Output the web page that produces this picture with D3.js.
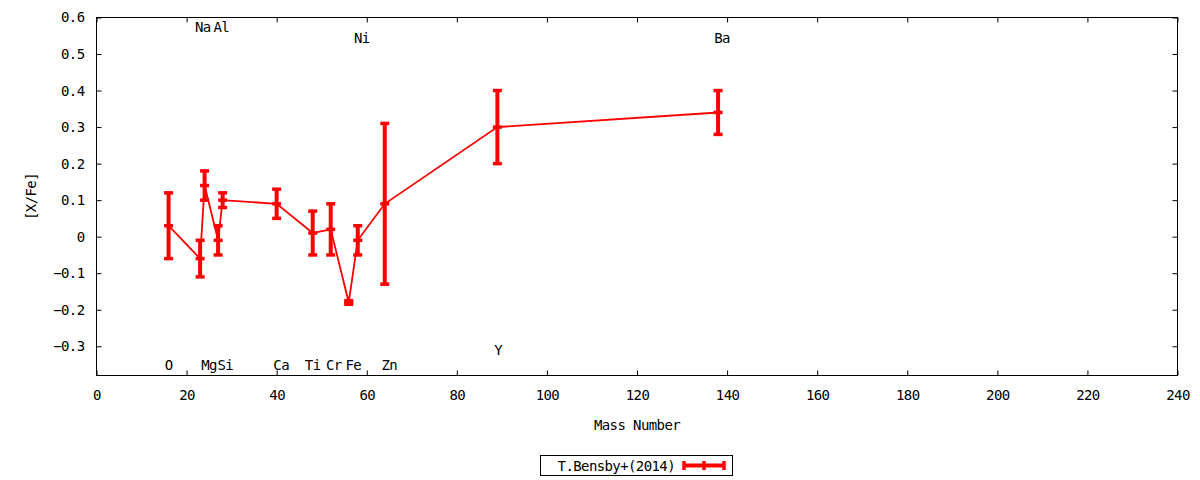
<!DOCTYPE html>
<html>
<head>
<meta charset="utf-8">
<script src="https://cdn.jsdelivr.net/npm/d3@7/dist/d3.min.js"></script>
<style>
  html, body { margin: 0; padding: 0; background: #fff; }
  svg { display: block; }
  text { font-family: "DejaVu Sans Mono", monospace; font-size: 14px; letter-spacing: -0.6px; fill: #000; }
</style>
</head>
<body>
<svg id="chart" width="1200" height="480"></svg>
<script>
// ---- data ----
const elements  = ["O", "Na", "Mg", "Al", "Si", "Ca", "Ti", "Cr", "Fe", "Ni", "Zn", "Y", "Ba"];
const massNum   = [16, 23, 24, 27, 28, 40, 48, 52, 56, 58, 64, 89, 138];
const xfe       = [0.03, -0.06, 0.14, -0.01, 0.10, 0.09, 0.01, 0.02, -0.18, -0.01, 0.09, 0.30, 0.34];
const xfeErr    = [0.09, 0.05, 0.04, 0.04, 0.02, 0.04, 0.06, 0.07, 0.005, 0.04, 0.22, 0.10, 0.06];

// element annotation labels (position in data units)
const labelText = ["Na", "Al", "Ni", "Ba", "O", "Mg", "Si", "Ca", "Ti", "Cr", "Fe", "Zn", "Y"];
const labelX    = [23.6, 27.7, 58.9, 138.9, 16.0, 25.0, 28.6, 41.0, 48.0, 52.7, 57.0, 65.0, 89.2];
const labelY    = [0.574, 0.574, 0.544, 0.544, -0.35, -0.35, -0.35, -0.35, -0.35, -0.35, -0.35, -0.35, -0.31];

const xTicks = [0, 20, 40, 60, 80, 100, 120, 140, 160, 180, 200, 220, 240];
const yTicks = [-0.3, -0.2, -0.1, 0, 0.1, 0.2, 0.3, 0.4, 0.5, 0.6];
const seriesName = "T.Bensby+(2014)";
const xTitle = "Mass Number";
const yTitle = "[X/Fe]";

// ---- layout ----
const L = 96.5, R = 1177.5, T = 17.5, B = 375.5;
const color = "#ff0000";
const svg = d3.select("#chart");

const x = d3.scaleLinear().domain([0, 240]).range([L, R]);
const y = d3.scaleLinear().domain([-0.38, 0.6]).range([B, T]);

const fmtY = v => (Math.abs(v) < 1e-9 ? "0" : d3.format(".1f")(v));

// bottom axis
svg.append("g").attr("transform", `translate(0,${B})`)
  .call(d3.axisBottom(x).tickValues(xTicks).tickSizeInner(-5).tickSizeOuter(0).tickPadding(15).tickFormat(d3.format("d")))
  .call(g => g.select(".domain").remove());
// top axis (mirror ticks)
svg.append("g").attr("transform", `translate(0,${T})`)
  .call(d3.axisTop(x).tickValues(xTicks).tickSizeInner(-5).tickSizeOuter(0).tickFormat(""))
  .call(g => g.select(".domain").remove());
// left axis
svg.append("g").attr("transform", `translate(${L},0)`)
  .call(d3.axisLeft(y).tickValues(yTicks).tickSizeInner(-5).tickSizeOuter(0).tickPadding(12).tickFormat(fmtY))
  .call(g => g.select(".domain").remove());
// right axis (mirror ticks)
svg.append("g").attr("transform", `translate(${R},0)`)
  .call(d3.axisRight(y).tickValues(yTicks).tickSizeInner(-5).tickSizeOuter(0).tickFormat(""))
  .call(g => g.select(".domain").remove());

svg.selectAll(".tick text")
  .style("font-family", "DejaVu Sans Mono").style("font-size", "14px").style("letter-spacing", "-0.6px");
svg.selectAll(".tick line").attr("stroke", "#000");

// frame
svg.append("rect").attr("x", L).attr("y", T).attr("width", R - L).attr("height", B - T)
  .attr("fill", "none").attr("stroke", "#000").attr("stroke-width", 1);

// titles
svg.append("text").attr("x", (L + R) / 2).attr("y", 430).attr("text-anchor", "middle").text(xTitle);
svg.append("text").attr("transform", `translate(36,${(T + B) / 2}) rotate(-90)`)
  .attr("text-anchor", "middle").text(yTitle);

// element labels
svg.append("g").selectAll("text").data(labelText).join("text")
  .attr("x", (d, i) => x(labelX[i]))
  .attr("y", (d, i) => y(labelY[i]))
  .attr("dy", "0.36em")
  .attr("text-anchor", "middle")
  .text(d => d);

// data series
const pts = massNum.map((m, i) => ({ m, v: xfe[i], e: xfeErr[i] }));
const capW = 4.5;

svg.append("path").datum(pts)
  .attr("fill", "none").attr("stroke", color).attr("stroke-width", 1.8)
  .attr("d", d3.line().x(d => x(d.m)).y(d => y(d.v)));

const eb = svg.append("g").attr("stroke", color);
eb.selectAll(".bar").data(pts).join("line")
  .attr("x1", d => x(d.m)).attr("x2", d => x(d.m))
  .attr("y1", d => y(d.v - d.e)).attr("y2", d => y(d.v + d.e))
  .attr("stroke-width", 4);
eb.selectAll(".capTop").data(pts).join("line").attr("class", "capTop")
  .attr("x1", d => x(d.m) - capW).attr("x2", d => x(d.m) + capW)
  .attr("y1", d => y(d.v + d.e)).attr("y2", d => y(d.v + d.e))
  .attr("stroke-width", 3.5);
eb.selectAll(".capBot").data(pts).join("line").attr("class", "capBot")
  .attr("x1", d => x(d.m) - capW).attr("x2", d => x(d.m) + capW)
  .attr("y1", d => y(d.v - d.e)).attr("y2", d => y(d.v - d.e))
  .attr("stroke-width", 3.5);
eb.selectAll(".mark").data(pts).join("line").attr("class", "mark")
  .attr("x1", d => x(d.m) - capW).attr("x2", d => x(d.m) + capW)
  .attr("y1", d => y(d.v)).attr("y2", d => y(d.v))
  .attr("stroke-width", 3.5);

// legend
const lg = svg.append("g");
lg.append("rect").attr("x", 540.5).attr("y", 455.5).attr("width", 192).attr("height", 20)
  .attr("fill", "#fff").attr("stroke", "#000").attr("stroke-width", 1);
lg.append("text").attr("x", 675).attr("y", 465.5).attr("dy", "0.36em").attr("text-anchor", "end").text(seriesName);
lg.append("line").attr("x1", 684).attr("x2", 724).attr("y1", 465.5).attr("y2", 465.5)
  .attr("stroke", color).attr("stroke-width", 4);
[684, 704, 724].forEach(cx => {
  lg.append("line").attr("x1", cx).attr("x2", cx).attr("y1", 461).attr("y2", 470)
    .attr("stroke", color).attr("stroke-width", 3.5);
});
</script>
</body>
</html>
